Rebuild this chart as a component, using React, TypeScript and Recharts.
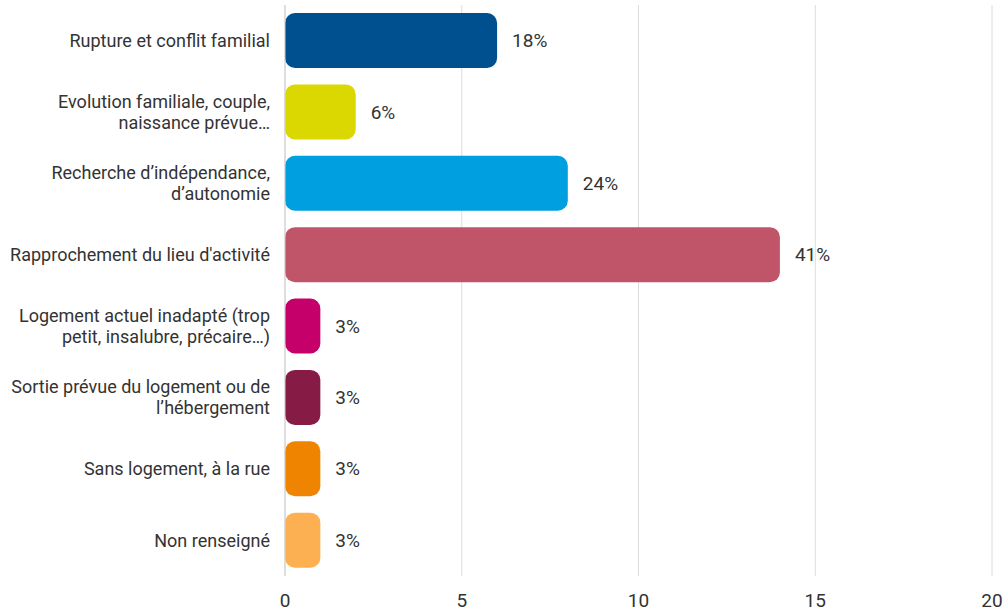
import React from "react";
import { BarChart, Bar, XAxis, YAxis, CartesianGrid, Cell, LabelList } from "recharts";

const categories = [
  "Rupture et conflit familial",
  "Evolution familiale, couple,\nnaissance prévue…",
  "Recherche d’indépendance,\nd’autonomie",
  "Rapprochement du lieu d'activité",
  "Logement actuel inadapté (trop\npetit, insalubre, précaire…)",
  "Sortie prévue du logement ou de\nl’hébergement",
  "Sans logement, à la rue",
  "Non renseigné",
];
const values = [6, 2, 8, 14, 1, 1, 1, 1];
const percentLabels = ["18%", "6%", "24%", "41%", "3%", "3%", "3%", "3%"];
const colors = ["#00508F", "#DAD800", "#009FE0", "#C05468", "#C6006B", "#861C45", "#EE8400", "#FCB052"];
const xTicks = [0, 5, 10, 15, 20];

const data = categories.map((c, i) => ({ name: c, value: values[i], pct: percentLabels[i] }));

const FONT = "Roboto, 'Noto Sans', sans-serif";

const YTick = (props: any) => {
  const { x, y, payload } = props;
  const lines = String(payload.value).split("\n");
  const lh = 21;
  const start = -((lines.length - 1) * lh) / 2;
  return (
    <text x={x} y={y} textAnchor="end" fill="#333" fontFamily={FONT} fontSize={18}>
      {lines.map((l, i) => (
        <tspan key={i} x={x} y={y + start + i * lh} dy="0.35em">
          {l}
        </tspan>
      ))}
    </text>
  );
};

const XTick = (props: any) => {
  const { x, y, payload } = props;
  return (
    <text x={x} y={y} dy={23} textAnchor="middle" fill="#333" fontFamily={FONT} fontSize={19}>
      {payload.value}
    </text>
  );
};

export default function App() {
  return (
    <div style={{ position: "absolute", left: 0, top: 0, width: 1006, height: 612, background: "#fff" }}>
      <BarChart
        width={1006}
        height={612}
        data={data}
        layout="vertical"
        margin={{ top: 5, right: 14, bottom: 6, left: 0 }}
        barSize={55}
      >
        <CartesianGrid horizontal={false} stroke="#dcdcdc" />
        <XAxis
          type="number"
          domain={[0, 20]}
          ticks={xTicks}
          axisLine={false}
          tickLine={false}
          height={30}
          tick={<XTick />}
          interval={0}
        />
        <YAxis
          type="category"
          dataKey="name"
          width={285}
          axisLine={{ stroke: "#cfcfcf" }}
          tickLine={false}
          tick={<YTick />}
          tickMargin={9}
          interval={0}
        />
        <Bar dataKey="value" isAnimationActive={false} radius={[10, 10, 10, 10]}>
          {data.map((d, i) => (
            <Cell key={i} fill={colors[i]} />
          ))}
          <LabelList
            dataKey="pct"
            position="right"
            offset={15}
            fill="#333"
            fontFamily={FONT}
            fontSize={19}
          />
        </Bar>
      </BarChart>
    </div>
  );
}
